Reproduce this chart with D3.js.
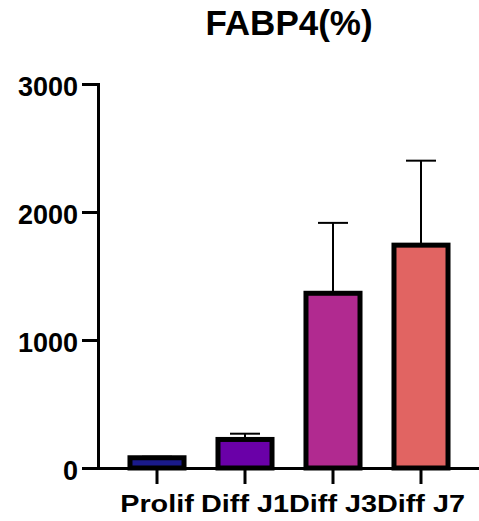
<!DOCTYPE html>
<html>
<head>
<meta charset="utf-8">
<script src="https://cdn.jsdelivr.net/npm/d3@7"></script>
<style>
  html, body { margin: 0; padding: 0; background: #fff; }
  svg { display: block; font-family: "Liberation Sans", Arial, Helvetica, sans-serif; }
</style>
</head>
<body>
<svg id="chart" width="479" height="521"></svg>
<script>
// data
const groups = ["Prolif", "Diff J1", "Diff J3", "Diff J7"];
const means  = [80, 223, 1365, 1741];
const errors = [8, 45, 550, 660];
const colors = ["#1a1a8a", "#6a00a8", "#b12a90", "#e16462"];
const yTicks = [0, 1000, 2000, 3000];

(function(){
"use strict";

let svg = d3.select("#chart");

let x = d3.scaleBand()
  .domain(groups)
  .range([98, 480])
  .paddingInner(0.386)
  .paddingOuter(0.3635);

let y = d3.scaleLinear()
  .domain([0, 3000])
  .range([468, 84]);

let rows = groups.map((g, i) => ({g, mean: means[i], err: errors[i], color: colors[i]}));

// title
svg.append("text")
  .attr("x", 289)
  .attr("y", 34.5)
  .attr("text-anchor", "middle")
  .style("font-size", "35px")
  .style("font-weight", "bold")
  .text("FABP4(%)");

// error bars (upper only)
let eb = svg.append("g").attr("stroke", "#000").attr("stroke-width", 2);
rows.forEach(function(d){
  let cx = x(d.g) + x.bandwidth() / 2;
  eb.append("line")
    .attr("x1", cx).attr("x2", cx)
    .attr("y1", y(d.mean)).attr("y2", y(d.mean + d.err));
  eb.append("line")
    .attr("x1", cx - 15).attr("x2", cx + 15)
    .attr("y1", y(d.mean + d.err)).attr("y2", y(d.mean + d.err));
});

// bars
svg.append("g").selectAll("rect")
  .data(rows)
  .enter().append("rect")
    .attr("x", d => x(d.g))
    .attr("y", d => y(d.mean))
    .attr("width", x.bandwidth())
    .attr("height", d => y(0) - y(d.mean))
    .attr("fill", d => d.color)
    .attr("stroke", "#000")
    .attr("stroke-width", 5);

// y axis
let yAxis = svg.append("g")
  .attr("transform", "translate(98,0)")
  .call(d3.axisLeft(y).tickValues(yTicks).tickFormat(d3.format("d"))
          .tickSize(16).tickSizeOuter(0).tickPadding(4));
yAxis.select(".domain").attr("stroke-width", 3).attr("stroke-linecap", "square");
yAxis.selectAll(".tick line").attr("stroke-width", 3);
yAxis.selectAll(".tick text")
  .attr("dy", "0.42em")
  .style("font-size", "27px")
  .style("font-weight", "bold")
  .attr("fill", "#000");

// x axis
let xAxis = svg.append("g")
  .attr("transform", "translate(0,468)")
  .call(d3.axisBottom(x).tickSize(16).tickSizeOuter(0).tickPadding(11));
xAxis.select(".domain").attr("stroke-width", 3);
xAxis.selectAll(".tick line").attr("stroke-width", 3);
xAxis.selectAll(".tick text")
  .attr("transform", "scale(1.2,1)")
  .style("font-size", "24px")
  .style("font-weight", "bold")
  .attr("fill", "#000");

})();
</script>
</body>
</html>
